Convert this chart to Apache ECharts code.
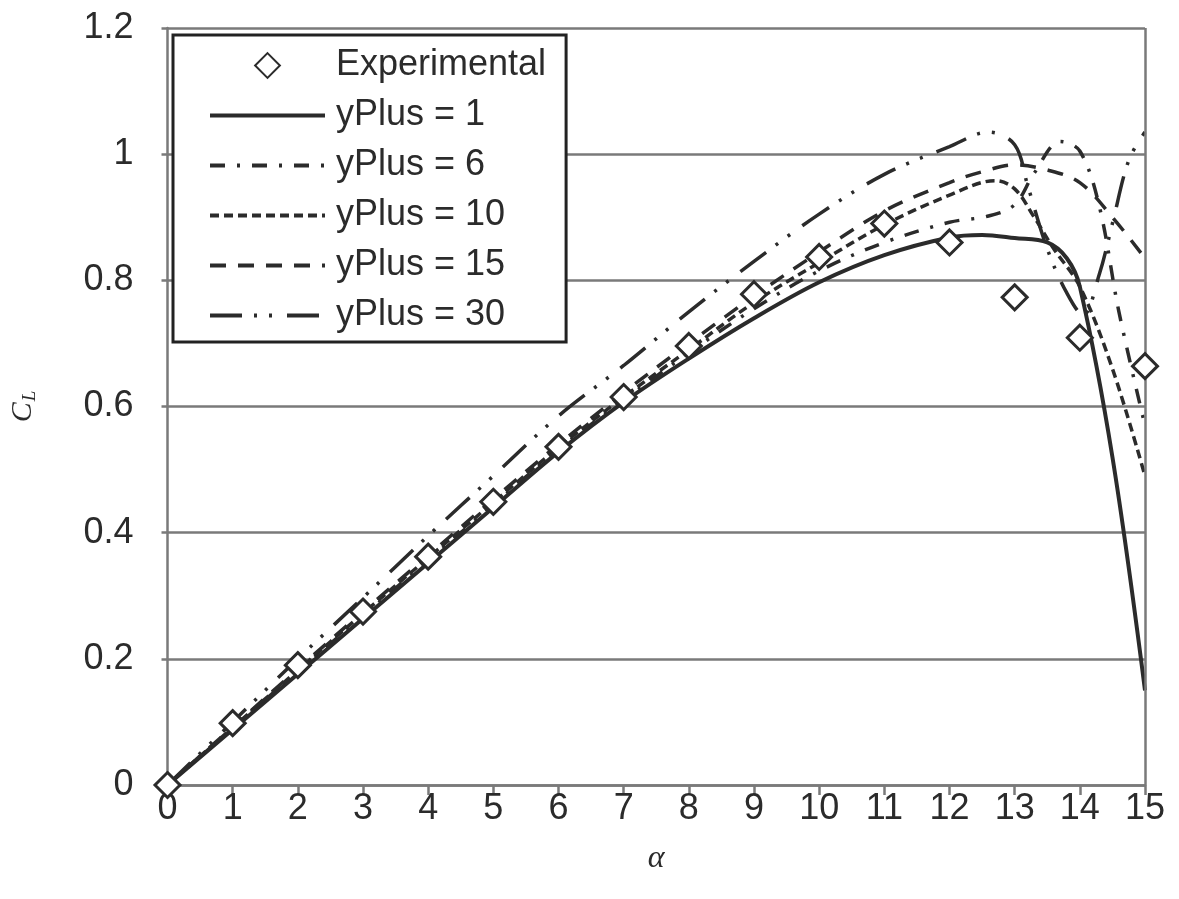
<!DOCTYPE html>
<html>
<head>
<meta charset="utf-8">
<script src="https://cdn.jsdelivr.net/npm/echarts@6/dist/echarts.min.js"></script>
<style>
  html, body { margin: 0; padding: 0; background: #ffffff; }
  #chart { width: 1179px; height: 899px; }
</style>
</head>
<body>
<div id="chart"></div>
<script>
// Lift coefficient C_L versus angle of attack alpha (degrees)
const expAlpha = [0, 1, 2, 3, 4, 5, 6, 7, 8, 9, 10, 11, 12, 13, 14, 15];
const expCL    = [0, 0.098, 0.19, 0.275, 0.362, 0.449, 0.536, 0.615, 0.696, 0.778, 0.837, 0.89, 0.86, 0.773, 0.709, 0.664];

const yp1Alpha = [0, 1, 2, 3, 4, 5, 6, 7, 8, 9, 10, 11, 12, 12.5, 13, 13.5, 13.8, 14, 14.5, 15];
const yp1CL    = [0, 0.088, 0.176, 0.264, 0.352, 0.44, 0.528, 0.607, 0.676, 0.74, 0.797, 0.84, 0.868, 0.872, 0.867, 0.86, 0.835, 0.79, 0.52, 0.15];

const yp6Alpha = [0, 1, 2, 3, 4, 5, 6, 7, 8, 9, 10, 11, 12, 12.6, 13, 13.3, 13.7, 14, 14.3, 14.6, 15];
const yp6CL    = [0, 0.09, 0.18, 0.268, 0.356, 0.444, 0.532, 0.61, 0.685, 0.755, 0.815, 0.86, 0.892, 0.902, 0.92, 0.97, 1.02, 1.005, 0.917, 0.75, 0.57];

const yp10Alpha = [0, 1, 2, 3, 4, 5, 6, 7, 8, 9, 10, 11, 12, 12.7, 13, 13.3, 13.6, 14, 14.5, 15];
const yp10CL    = [0, 0.091, 0.182, 0.272, 0.36, 0.448, 0.535, 0.615, 0.69, 0.765, 0.828, 0.888, 0.935, 0.958, 0.945, 0.9, 0.85, 0.79, 0.66, 0.49];

const yp15Alpha = [0, 1, 2, 3, 4, 5, 6, 7, 8, 9, 10, 11, 12, 12.5, 13, 13.5, 14, 14.5, 15];
const yp15CL    = [0, 0.092, 0.184, 0.275, 0.364, 0.453, 0.54, 0.622, 0.7, 0.775, 0.845, 0.91, 0.955, 0.972, 0.983, 0.975, 0.955, 0.9, 0.835];

const yp30Alpha = [0, 1, 2, 3, 4, 5, 6, 7, 8, 9, 10, 11, 12, 12.6, 13, 13.2, 13.5, 13.8, 14.05, 14.3, 14.5, 14.75, 15];
const yp30CL    = [0, 0.1, 0.2, 0.297, 0.395, 0.49, 0.585, 0.665, 0.75, 0.83, 0.905, 0.968, 1.012, 1.035, 1.015, 0.95, 0.85, 0.78, 0.745, 0.81, 0.89, 0.99, 1.035];

const xTicks = [0, 15, 1];      // min, max, step
const yTicks = [0, 1.2, 0.2];

const seriesNames = ['Experimental', 'yPlus = 1', 'yPlus = 6', 'yPlus = 10', 'yPlus = 15', 'yPlus = 30'];

const zip = (xs, ys) => xs.map((x, i) => [x, ys[i]]);

const ink = '#2b2b2b';
const gridGray = '#7a7a7a';
const labelFont = 'Liberation Sans, Arial, sans-serif';
const serifFont = 'Liberation Serif, DejaVu Serif, serif';

const dashes = {
  solid: 'solid',
  y6: [15, 12, 3, 12],
  y10: [9, 5],
  y15: [16, 12],
  y30: [32, 12, 3, 12, 3, 15]
};

function curve(name, xs, ys, dash, width) {
  return {
    name: name,
    type: 'line',
    data: zip(xs, ys),
    smooth: 0.35,
    symbol: 'emptyCircle',
    showSymbol: false,
    silent: true,
    z: 3,
    itemStyle: { color: ink },
    lineStyle: { color: ink, width: width, type: dash, cap: 'butt' }
  };
}

function legendLine(name, dash, width) {
  return { name: name, itemStyle: { opacity: 0 }, lineStyle: { width: width, type: dash, color: ink } };
}

const chart = echarts.init(document.getElementById('chart'), null, { renderer: 'canvas' });

chart.setOption({
  backgroundColor: '#ffffff',
  animation: false,
  grid: { left: 165, right: 34, top: 28, bottom: 114, containLabel: false },
  legend: {
    orient: 'vertical',
    left: 173, top: 35,
    padding: [10, 20, 6, 35],
    itemWidth: 115,
    itemHeight: 31,
    itemGap: 9,
    backgroundColor: '#ffffff',
    borderColor: '#222222',
    borderWidth: 3,
    textStyle: { fontFamily: labelFont, fontSize: 36, lineHeight: 41, color: ink, padding: [0, 0, 0, 6] },
    data: [
      { name: seriesNames[0] },
      legendLine(seriesNames[1], dashes.solid, 4),
      legendLine(seriesNames[2], dashes.y6, 4),
      legendLine(seriesNames[3], dashes.y10, 4),
      legendLine(seriesNames[4], dashes.y15, 4),
      legendLine(seriesNames[5], dashes.y30, 4)
    ]
  },
  xAxis: {
    type: 'value',
    min: xTicks[0], max: xTicks[1], interval: xTicks[2],
    name: 'α',
    nameLocation: 'middle',
    nameGap: 58,
    nameTextStyle: { fontFamily: serifFont, fontStyle: 'italic', fontSize: 32, color: ink },
    axisLine: { show: true, lineStyle: { color: gridGray, width: 2.5 } },
    axisTick: { show: true, inside: false, length: 10, lineStyle: { color: gridGray, width: 2.5 } },
    axisLabel: { margin: 6, fontFamily: labelFont, fontSize: 36, color: ink },
    splitLine: { show: false }
  },
  yAxis: {
    type: 'value',
    min: yTicks[0], max: yTicks[1], interval: yTicks[2],
    name: '{c|C}{l|L}',
    nameLocation: 'middle',
    nameGap: 128,
    nameRotate: 90,
    nameTextStyle: {
      color: ink,
      rich: {
        c: { fontFamily: serifFont, fontStyle: 'italic', fontSize: 30, color: ink },
        l: { fontFamily: serifFont, fontStyle: 'italic', fontSize: 19, color: ink, padding: [14, 0, 0, 1] }
      }
    },
    axisLine: { show: true, lineStyle: { color: gridGray, width: 2.5 } },
    axisTick: { show: true, inside: false, length: 6, lineStyle: { color: gridGray, width: 2.5 } },
    axisLabel: { margin: 34, fontFamily: labelFont, fontSize: 36, color: ink,
                 formatter: v => (Math.round(v * 10) / 10).toString() },
    splitLine: { show: true, lineStyle: { color: gridGray, width: 2.5 } }
  },
  series: [
    {
      name: seriesNames[0],
      type: 'line',
      data: zip(expAlpha, expCL),
      symbol: 'diamond',
      symbolSize: 25,
      showSymbol: true,
      silent: true,
      z: 5,
      lineStyle: { width: 0, opacity: 0 },
      itemStyle: { color: '#ffffff', borderColor: ink, borderWidth: 3 }
    },
    curve(seriesNames[1], yp1Alpha, yp1CL, dashes.solid, 4),
    curve(seriesNames[2], yp6Alpha, yp6CL, dashes.y6, 3.5),
    curve(seriesNames[3], yp10Alpha, yp10CL, dashes.y10, 3.5),
    curve(seriesNames[4], yp15Alpha, yp15CL, dashes.y15, 3.5),
    curve(seriesNames[5], yp30Alpha, yp30CL, dashes.y30, 3.5),
    {
      // right-hand frame of the plot area
      type: 'line',
      silent: true,
      data: [],
      markLine: {
        silent: true, symbol: 'none', label: { show: false },
        lineStyle: { color: gridGray, width: 2.5, type: 'solid' },
        data: [{ xAxis: xTicks[1] }]
      }
    }
  ]
});
</script>
</body>
</html>
